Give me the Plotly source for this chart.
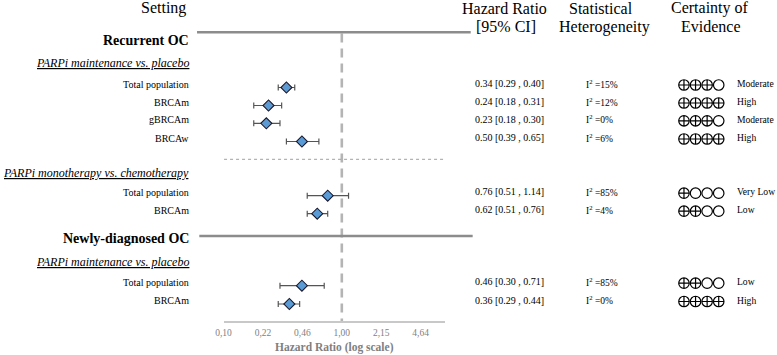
import plotly.graph_objects as go

# ---------------- data ----------------
row_labels = ["Total population", "BRCAm", "gBRCAm", "BRCAw",
              "Total population", "BRCAm",
              "Total population", "BRCAm"]
hr_point = [0.34, 0.24, 0.23, 0.46, 0.76, 0.62, 0.46, 0.36]   # as drawn
hr_low = [0.29, 0.18, 0.18, 0.34, 0.51, 0.51, 0.30, 0.29]
hr_high = [0.40, 0.31, 0.30, 0.64, 1.14, 0.76, 0.71, 0.44]
hr_text = ["0.34 [0.29 , 0.40]", "0.24 [0.18 , 0.31]", "0.23 [0.18 , 0.30]",
           "0.50 [0.39 , 0.65]", "0.76 [0.51 , 1.14]", "0.62 [0.51 , 0.76]",
           "0.46 [0.30 , 0.71]", "0.36 [0.29 , 0.44]"]
i2_values = ["15%", "12%", "0%", "6%", "85%", "4%", "85%", "0%"]
certainty_level = [3, 4, 3, 4, 1, 2, 2, 4]
certainty_label = ["Moderate", "High", "Moderate", "High",
                   "Very Low", "Low", "Low", "High"]
tick_vals = [0.1, 0.2154, 0.4642, 1.0, 2.154, 4.642]
tick_text = ["0,10", "0,22", "0,46", "1,00", "2,15", "4,64"]

# ---------------- layout (pixel-like positions) ----------------
W, H = 777, 355
row_y = [87.5, 105.5, 123.3, 141.5, 195.7, 213.7, 285.7, 304.0]
AX_Y = 322.0
SERIF = "Liberation Serif"

def px(x):
    return x / W

fig = go.Figure()

# forest markers
fig.add_trace(go.Scatter(
    x=hr_point, y=row_y, mode="markers",
    marker=dict(symbol="diamond", size=8.5, color="#5B9BD5",
                line=dict(color="#1a1a2e", width=1.1)),
    error_x=dict(type="data", symmetric=False,
                 array=[h - p for h, p in zip(hr_high, hr_point)],
                 arrayminus=[p - l for l, p in zip(hr_low, hr_point)],
                 color="#555555", thickness=1.2, width=3),
    xaxis="x", yaxis="y", showlegend=False, hoverinfo="skip"))

# certainty circles (on a pixel x axis)
cx, cy, csym = [], [], []
for i, lvl in enumerate(certainty_level):
    for k in range(4):
        cx.append(683 + k * 11.7)
        cy.append(row_y[i] - 2.5)
        csym.append("circle-cross-open" if k < lvl else "circle-open")
fig.add_trace(go.Scatter(
    x=cx, y=cy, mode="markers",
    marker=dict(symbol=csym, size=10.5, color="black", line=dict(color="black", width=1.2)),
    xaxis="x2", yaxis="y", showlegend=False, hoverinfo="skip", cliponaxis=False))

ann = []
def txt(x, y, s, size=10, anchor="right", color="black"):
    ann.append(dict(x=px(x), y=y, xref="paper", yref="y", text=s, showarrow=False,
                    xanchor=anchor, yanchor="middle",
                    font=dict(family=SERIF, size=size, color=color)))

# headers
txt(157, 8, "Setting", 16, "center")
txt(502, 8, "Hazard Ratio", 16, "center")
txt(503, 26.5, "[95% CI]", 16, "center")
txt(599, 8, "Statistical", 16, "center")
txt(603, 26.5, "Heterogeneity", 16, "center")
txt(709, 8, "Certainty of", 16, "center")
txt(710, 26.5, "Evidence", 16, "center")

# group labels
txt(185, 40.7, "<b>Recurrent OC</b>", 14)
txt(185, 63.3, "<i><u>PARPi maintenance vs. placebo</u></i>", 12)
txt(185, 173.3, "<i><u>PARPi monotherapy vs. chemotherapy</u></i>", 12)
txt(185, 238.3, "<b>Newly-diagnosed OC</b>", 14)
txt(185, 262.3, "<i><u>PARPi maintenance vs. placebo</u></i>", 12)

for i in range(len(row_labels)):
    y = row_y[i]
    txt(185, y - 3.5, row_labels[i], 10)
    txt(470, y - 4, hr_text[i], 10, "left")
    txt(582, y - 4, "I<sup>2</sup> =" + i2_values[i], 9.5, "left")
    txt(735, y - 4, certainty_label[i], 9.6, "left")

# axis title
txt(330, 347.5, "<b>Hazard Ratio (log scale)</b>", 11.5, "center", "#7f7f7f")

shapes = [
    dict(type="line", xref="paper", yref="y", x0=px(191), x1=px(467.5), y0=32.3, y1=32.3,
         line=dict(color="#8c8c8c", width=2.5)),
    dict(type="line", xref="paper", yref="y", x0=px(193.3), x1=px(469.5), y0=236, y1=236,
         line=dict(color="#8c8c8c", width=2.5)),
    dict(type="line", xref="paper", yref="y", x0=px(218.3), x1=px(441.7), y0=159.3, y1=159.3,
         line=dict(color="#a0a0a0", width=1, dash="dot")),
    dict(type="line", xref="x", yref="y", x0=1, x1=1, y0=33.5, y1=AX_Y,
         line=dict(color="#b4b4b4", width=2.6, dash="9px,6px"), layer="below"),
]

fig.update_layout(
    width=W, height=H, margin=dict(l=0, r=0, t=0, b=0),
    paper_bgcolor="white", plot_bgcolor="rgba(0,0,0,0)",
    annotations=ann, shapes=shapes,
    xaxis=dict(type="log", range=[-1, 0.874], domain=[px(217.8), px(441.7)],
               anchor="free", position=(H - AX_Y) / H,
               tickvals=tick_vals, ticktext=tick_text, showgrid=False, zeroline=False,
               showline=True, linecolor="#c8c8c8", linewidth=1.5,
               ticks="outside", ticklen=2, tickcolor="rgba(0,0,0,0)",
               tickfont=dict(family=SERIF, size=9.5, color="#7f7f7f")),
    xaxis2=dict(range=[0, W], domain=[0, 1], anchor="y", visible=False),
    yaxis=dict(range=[H, 0], domain=[0, 1], visible=False),
)

fig.write_html("out.html", config={"displayModeBar": False},
               post_script="document.body.style.margin='0';document.body.style.overflow='hidden';")
